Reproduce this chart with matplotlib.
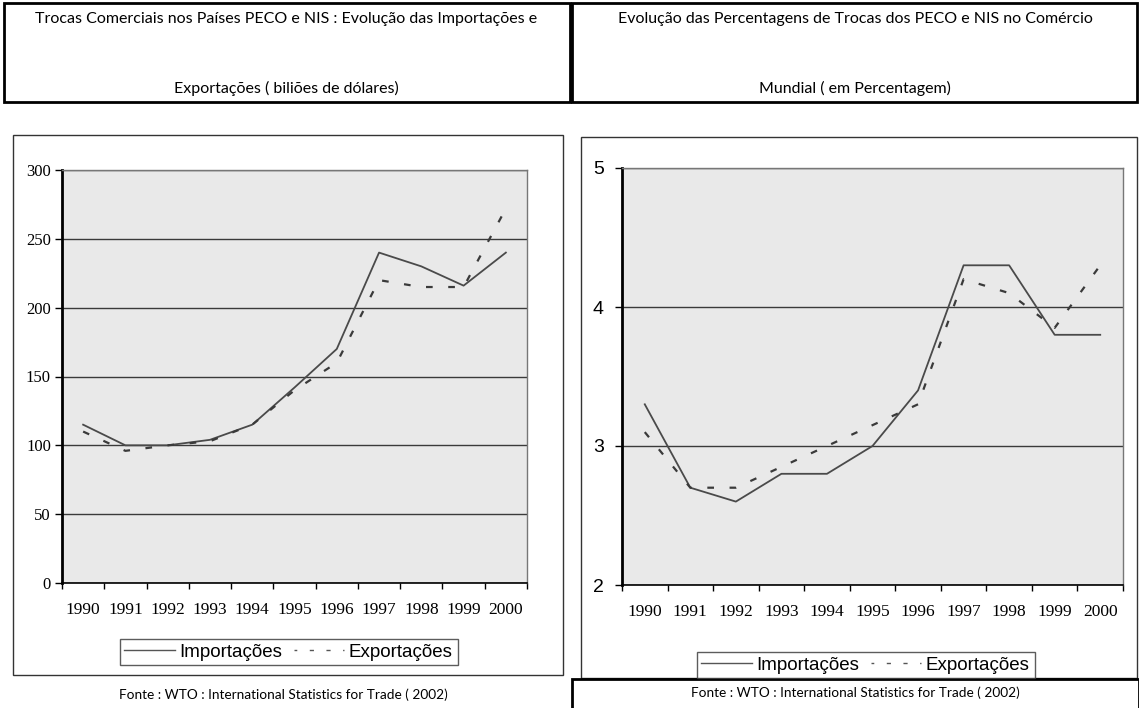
import matplotlib
matplotlib.use('Agg')
import matplotlib.pyplot as plt
import matplotlib.patches as mpatches
from matplotlib.lines import Line2D
import numpy as np

# data
years = ['1990', '1991', '1992', '1993', '1994', '1995', '1996', '1997', '1998', '1999', '2000']
imp_bil = [115, 100, 100, 104, 115, 142, 170, 240, 230, 216, 240]
exp_bil = [110, 96, 100, 103, 115, 140, 160, 220, 215, 215, 272]
imp_pct = [3.3, 2.7, 2.6, 2.8, 2.8, 3.0, 3.4, 4.3, 4.3, 3.8, 3.8]
exp_pct = [3.1, 2.7, 2.7, 2.85, 3.0, 3.15, 3.3, 4.2, 4.1, 3.85, 4.3]

title_left = ['Trocas Comerciais nos Países PECO e NIS : Evolução das Importações e',
              'Exportações ( biliões de dólares)']
title_right = ['Evolução das Percentagens de Trocas dos PECO e NIS no Comércio',
               'Mundial ( em Percentagem)']
fonte = 'Fonte : WTO : International Statistics for Trade ( 2002)'

W, H = 1139, 708
fig = plt.figure(figsize=(W / 100, H / 100), dpi=100)
fig.patch.set_facecolor('white')


def px_box(x0, y0, x1, y1):
    # pixel box (top-left origin) -> figure fraction [l, b, w, h]
    return [x0 / W, (H - y1) / H, (x1 - x0) / W, (y1 - y0) / H]


def frame(x0, y0, x1, y1, lw=1.0, color='#333333'):
    l, b, w, h = px_box(x0, y0, x1, y1)
    fig.patches.append(mpatches.Rectangle((l, b), w, h, transform=fig.transFigure,
                                          fill=False, lw=lw, ec=color))


def fig_text(x, y, s, **kw):
    fig.text(x / W, (H - y) / H, s, ha='center', va='center', **kw)


# header boxes
frame(4, 3, 570, 102, lw=2.0, color='black')
frame(572, 3, 1137, 102, lw=2.0, color='black')
fig_text(286, 19, title_left[0], family='Lato', fontsize=11.5)
fig_text(286, 88, title_left[1], family='Lato', fontsize=11.5)
fig_text(855, 19, title_right[0], family='Lato', fontsize=11.5)
fig_text(855, 88, title_right[1], family='Lato', fontsize=11.5)

# chart panels
frame(13, 135, 563, 675, lw=1.0)
frame(581, 137, 1137, 678, lw=1.0)

# source lines
fig_text(283, 695, fonte, family='Lato', fontsize=9.8)
frame(572, 679, 1139, 712, lw=2.0, color='black')
fig_text(855, 693, fonte, family='Lato', fontsize=9.8)


def style_axes(ax, ylim, yticks, ylab_font, ylab_size):
    ax.set_facecolor('#e9e9e9')
    ax.set_xlim(-0.5, len(years) - 0.5)
    ax.set_ylim(*ylim)
    ax.set_yticks(yticks)
    ax.set_xticks(range(len(years)))
    ax.set_xticklabels(years, family='Liberation Serif', fontsize=12.5)
    ax.set_xticks(np.arange(-0.5, len(years)), minor=True)
    ax.tick_params(axis='x', which='major', length=0, pad=14)
    ax.tick_params(axis='x', which='minor', length=4, width=1, direction='out')
    ax.tick_params(axis='y', length=5, width=1, direction='out', pad=3)
    for lab in ax.get_yticklabels():
        lab.set_family(ylab_font)
        lab.set_fontsize(ylab_size)
    ax.grid(True, axis='y', color='#3a3a3a', lw=1.0)
    ax.set_axisbelow(True)
    ax.spines['left'].set_linewidth(2.0)
    ax.spines['bottom'].set_linewidth(1.2)
    for s in ['top', 'right']:
        ax.spines[s].set_color('#777777')
        ax.spines[s].set_linewidth(1.0)


def draw_lines(ax, imp, exp):
    x = np.arange(len(years))
    ax.plot(x, imp, color='#4a4a4a', lw=1.3, ls='-')
    ax.plot(x, exp, color='#3a3a3a', lw=1.6, ls=(0, (3, 7)))


def add_legend(ax, x0, y0, x1, y1):
    handles = [Line2D([], [], color='#555555', lw=1.0, ls='-'),
               Line2D([], [], color='#555555', lw=1.0, ls=(1, (3, 9)))]
    cx = (x0 + x1) / 2 / W
    cy = (H - (y0 + y1) / 2) / H
    leg = fig.legend(handles, ['Importações', 'Exportações'], ncol=2,
                     loc='center', bbox_to_anchor=(cx, cy), bbox_transform=fig.transFigure,
                     fancybox=False, frameon=True, edgecolor='#333333',
                     handlelength=2.7, handletextpad=0.25, columnspacing=0.6,
                     borderpad=0.25, borderaxespad=0,
                     prop={'family': 'Liberation Sans', 'size': 13.5})
    leg.get_frame().set_linewidth(1.0)


# left chart: values in billions of dollars
ax1 = fig.add_axes(px_box(62, 170, 527, 583))
draw_lines(ax1, imp_bil, exp_bil)
style_axes(ax1, (0, 300), [0, 50, 100, 150, 200, 250, 300], 'Liberation Serif', 12)
add_legend(ax1, 115, 637, 462, 667)

# right chart: share of world trade (%)
ax2 = fig.add_axes(px_box(622, 168, 1123, 585))
draw_lines(ax2, imp_pct, exp_pct)
style_axes(ax2, (2, 5), [2, 3, 4, 5], 'Liberation Sans', 14)
ax2.tick_params(axis='y', pad=8)
add_legend(ax2, 688, 647, 1043, 683)

plt.savefig('out.png', dpi=100)
